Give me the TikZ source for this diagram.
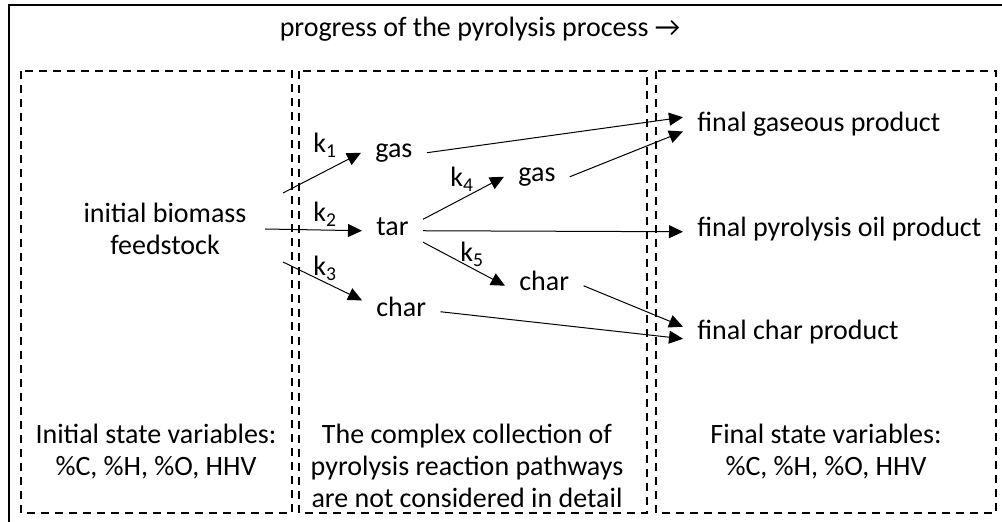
\documentclass[tikz,border=0pt]{standalone}
\usepackage{fontspec}
\setmainfont{Carlito}
\usetikzlibrary{arrows.meta}
\usetikzlibrary{positioning}

\begin{document}
\begin{tikzpicture}[x=0.5pt, y=-0.5pt, font=\fontsize{14}{16}\selectfont,
    box/.style={dash pattern=on 4pt off 3pt, line width=0.8pt},
    spec/.style={inner xsep=7pt, inner ysep=0.5pt, text height=1.6ex, text depth=0.5ex},
    txt/.style={inner sep=0pt, align=center},
    flow/.style={-{Triangle[length=7pt,width=6.5pt]}, line width=0.5pt}]
    \useasboundingbox (0,0) rectangle (1002,522);
    % frame and the three stages
    \draw[line width=1pt] (9,522) -- (9,5) -- (1002,5);
    \draw[box] (21,71) rectangle (292,513);
    \draw[box] (299,71) rectangle (647,513);
    \draw[box] (656,71) rectangle (996,513);
    \node[txt, anchor=base] (title) at (480,37) {progress of the pyrolysis process →};

    \node[txt] (feed) at (165,229) {initial biomass\\feedstock};
    \node[txt] (initvars) at (156,452) {Initial state variables:\\\%C, \%H, \%O, HHV};
    \node[txt] (pathways) at (467,466) {The complex collection of\\pyrolysis reaction pathways\\are not considered in detail};
    \node[txt] (finvars) at (826,452) {Final state variables:\\\%C, \%H, \%O, HHV};

    % species
    \node[spec, anchor=base west] (gasA) at (361,158) {gas};
    \node[spec, anchor=base west] (tar) at (362,236) {tar};
    \node[spec, anchor=base west] (charA) at (362,317) {char};
    \node[spec, anchor=base west] (gasB) at (504,182) {gas};
    \node[spec, anchor=base west] (charB) at (505,291) {char};
    \node[spec, anchor=base west] (fgas) at (683,132) {final gaseous product};
    \node[spec, anchor=base west] (foil) at (683,237) {final pyrolysis oil product};
    \node[spec, anchor=base west] (fchar) at (683,340) {final char product};

    % rate constants
    \node[txt, anchor=base west] (kA) at (313,153) {k\textsubscript{1}};
    \node[txt, anchor=base west] (kB) at (313,222) {k\textsubscript{2}};
    \node[txt, anchor=base west] (kC) at (313,276) {k\textsubscript{3}};
    \node[txt, anchor=base west] (kD) at (450,187) {k\textsubscript{4}};
    \node[txt, anchor=base west] (kE) at (460,262) {k\textsubscript{5}};

    \coordinate (sA) at (283,193);
    \coordinate (sB) at (265,229);
    \coordinate (sC) at (283,262);
    \draw[flow] (sA) -- (gasA.west);
    \draw[flow] (sB) -- (tar.west);
    \draw[flow] (sC) -- (charA.north west);
    \draw[flow] (tar.north east) -- (gasB.west);
    \draw[flow] (tar.south east) -- (charB.west);
    \draw[flow] (gasA.east) -- (fgas.176);
    \draw[flow] (gasB.east) -- (fgas.182);
    \draw[flow] (tar.east) -- (foil.west);
    \draw[flow] (charB.east) -- (fchar.176);
    \draw[flow] (charA.east) -- (fchar.182);
\end{tikzpicture}
\end{document}
